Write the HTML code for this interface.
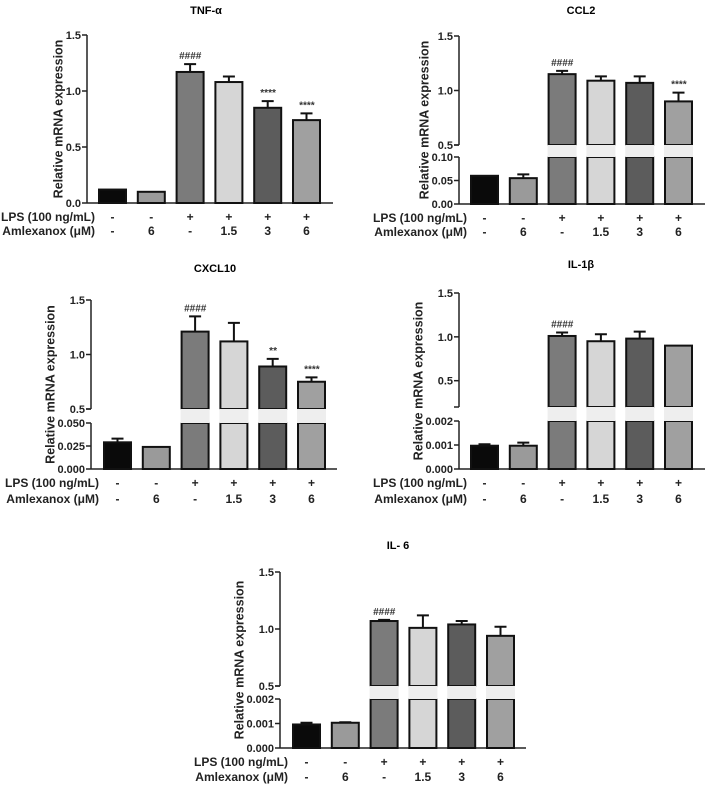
<!DOCTYPE html>
<html><head><meta charset="utf-8"><style>
body{margin:0;background:#fff;}
svg{display:block;font-family:"Liberation Sans",Arial,sans-serif;font-weight:bold;}
</style></head><body>
<svg id="fig" width="708" height="790" viewBox="0 0 708 790"></svg>
<script>
const categories = ["ctrl","amx6","lps","lps+amx1.5","lps+amx3","lps+amx6"];
const lpsLabels = ["-","-","+","+","+","+"];
const amlexLabels = ["-","6","-","1.5","3","6"];
const tnfValues = [0.12,0.10,1.17,1.08,0.85,0.74];
const tnfErrors = [0,0,0.07,0.05,0.06,0.06];
const tnfMarks = ["","","####","","****","****"];
const ccl2Values = [0.060,0.055,1.15,1.09,1.07,0.90];
const ccl2Errors = [0,0.008,0.03,0.04,0.06,0.08];
const ccl2Marks = ["","","####","","","****"];
const cxcl10Values = [0.029,0.024,1.21,1.12,0.89,0.75];
const cxcl10Errors = [0.004,0,0.14,0.17,0.07,0.04];
const cxcl10Marks = ["","","####","","**","****"];
const il1bValues = [0.00097,0.00097,1.01,0.95,0.98,0.90];
const il1bErrors = [0.00006,0.00013,0.04,0.08,0.08,0];
const il1bMarks = ["","","####","","",""];
const il6Values = [0.00096,0.00103,1.07,1.01,1.04,0.94];
const il6Errors = [0.00007,0.00002,0.01,0.11,0.03,0.08];
const il6Marks = ["","","####","","",""];
const tnfTicks = ["0.0","0.5","1.0","1.5"];
const ccl2LowTicks = ["0.00","0.05","0.10"];
const cxcl10LowTicks = ["0.000","0.025","0.050"];
const il1bLowTicks = ["0.000","0.001","0.002"];
const il6LowTicks = ["0.000","0.001","0.002"];
const upperTicks = ["0.5","1.0","1.5"];

const colors = ["#0a0a0a","#9a9a9a","#7b7b7b","#d6d6d6","#5c5c5c","#a0a0a0"];
const NS="http://www.w3.org/2000/svg";
const svg=document.getElementById('fig');
function el(tag,attrs,parent){const e=document.createElementNS(NS,tag);for(const k in attrs)e.setAttribute(k,attrs[k]);(parent||svg).appendChild(e);return e;}

const panels=[
 {name:"tnf",title:"TNF-α",tx:206,ty:14,ox:87,off:12,vals:tnfValues,errs:tnfErrors,marks:tnfMarks,
  segs:[{min:0,max:1.5,yb:203,yt:35,ticks:tnfTicks}],rows:[217,231]},
 {name:"ccl2",title:"CCL2",tx:581,ty:14,ox:459,off:12,vals:ccl2Values,errs:ccl2Errors,marks:ccl2Marks,
  segs:[{min:0,max:0.1,yb:204,yt:157,ticks:ccl2LowTicks},{min:0.5,max:1.5,yb:145,yt:36,ticks:upperTicks}],rows:[218,232]},
 {name:"cxcl10",title:"CXCL10",tx:215,ty:272,ox:91,off:13,vals:cxcl10Values,errs:cxcl10Errors,marks:cxcl10Marks,
  segs:[{min:0,max:0.05,yb:469,yt:423,ticks:cxcl10LowTicks},{min:0.5,max:1.5,yb:409,yt:300,ticks:upperTicks}],rows:[483,499]},
 {name:"il1b",title:"IL-1β",tx:581,ty:268,ox:459,off:12,vals:il1bValues,errs:il1bErrors,marks:il1bMarks,
  segs:[{min:0,max:0.002,yb:469,yt:421,ticks:il1bLowTicks},{min:0.2,max:1.5,yb:407,yt:293,ticks:upperTicks}],rows:[483,499]},
 {name:"il6",title:"IL- 6",tx:398,ty:549,ox:280,off:13,vals:il6Values,errs:il6Errors,marks:il6Marks,
  segs:[{min:0,max:0.002,yb:748,yt:699,ticks:il6LowTicks},{min:0.5,max:1.5,yb:686,yt:572,ticks:upperTicks}],rows:[762,777]}
];
const step=38.8,bw=27;

panels.forEach(p=>{
  const g=el('g',{});
  
  
  const t=el('text',{x:p.tx,y:p.ty,'font-size':11,'text-anchor':'middle'},g);t.textContent=p.title;
  
  
  const segs=p.segs, low=segs[0], up=segs[segs.length-1];
  const yOf=(s,v)=>s.yb-(v-s.min)/(s.max-s.min)*(s.yb-s.yt);
  let maxW=0;
  segs.forEach((s,si)=>{
    const ax=el('line',{x1:p.ox,x2:p.ox,y1:s.yb,y2:s.yt,stroke:'#222','stroke-width':1.5},g);
    
    
    if(si>0){el('line',{x1:p.ox-5,x2:p.ox,y1:s.yb,y2:s.yb,stroke:'#222','stroke-width':1.5},g);}
    s.ticks.forEach((lab,i)=>{
      const v=parseFloat(lab);
      const y=yOf(s,v);
      el('line',{x1:p.ox-5,x2:p.ox,y1:y,y2:y,stroke:'#222','stroke-width':1.5},g);
      const tl=el('text',{x:p.ox-6,y:y+4,'font-size':11,'text-anchor':'end',fill:'#222'},g);
      tl.textContent=lab;
      
      
      maxW=Math.max(maxW,tl.getComputedTextLength());
    });
  });
  const xa=el('line',{x1:p.ox,x2:p.ox+246,y1:low.yb,y2:low.yb,stroke:'#222','stroke-width':1.5},g);
  
  
  const yc=(low.yb+up.yt)/2;
  const tx=p.ox-6-maxW-3;
  const yt=el('text',{x:0,y:0,'font-size':12.5,'text-anchor':'middle',fill:'#222',transform:`translate(${tx},${yc}) rotate(-90)`},g);
  yt.textContent="Relative mRNA expression";
  
  
  p.vals.forEach((v,i)=>{
    const x=p.ox+p.off+i*step, cx=x+bw/2;
    let topY, topSeg;
    if(segs.length===1||v<=low.max){
      topSeg=low; topY=yOf(low,v);
      const b=el('rect',{x:x,y:topY,width:bw,height:low.yb-topY,fill:colors[i],stroke:'#111','stroke-width':2},g);
      
      
    } else {
      topSeg=up; topY=yOf(up,v);
      const b1=el('rect',{x:x,y:low.yt,width:bw,height:low.yb-low.yt,fill:colors[i],stroke:'#111','stroke-width':2},g);
      
      
      const b2=el('rect',{x:x,y:topY,width:bw,height:up.yb-topY,fill:colors[i],stroke:'#111','stroke-width':2},g);
      
      
      el('rect',{x:x-1,y:up.yb,width:bw+2,height:low.yt-up.yb,fill:'#eee'},g);
    }
    const e=p.errs[i];
    let markY=topY;
    if(e>0){
      const ey=yOf(topSeg,v+e);
      const eb=el('path',{d:`M${cx},${topY}V${ey}M${cx-6},${ey}H${cx+6}`,stroke:'#111','stroke-width':2,fill:'none'},g);
      
      
      markY=ey;
    }
    if(p.marks[i]){
      const m=el('text',{x:cx,y:markY-5,'font-size':10,'text-anchor':'middle',fill:'#333','font-style':'italic'},g);
      m.textContent=p.marks[i];
      
      
    }
    const l1=el('text',{x:cx,y:p.rows[0]+4,'font-size':12,'text-anchor':'middle',fill:'#222'},g);
    l1.textContent=lpsLabels[i];
    
    
    const l2=el('text',{x:cx,y:p.rows[1]+4,'font-size':12,'text-anchor':'middle',fill:'#222'},g);
    l2.textContent=amlexLabels[i];
    
    
  });
  const r1=el('text',{x:p.ox+8,y:p.rows[0]+4,'font-size':12,'text-anchor':'end',fill:'#222'},g);
  r1.textContent="LPS (100 ng/mL)";
  
  
  const r2=el('text',{x:p.ox+8,y:p.rows[1]+4,'font-size':12,'text-anchor':'end',fill:'#222'},g);
  r2.textContent="Amlexanox (μM)";
  
  
});
</script>
</body></html>
